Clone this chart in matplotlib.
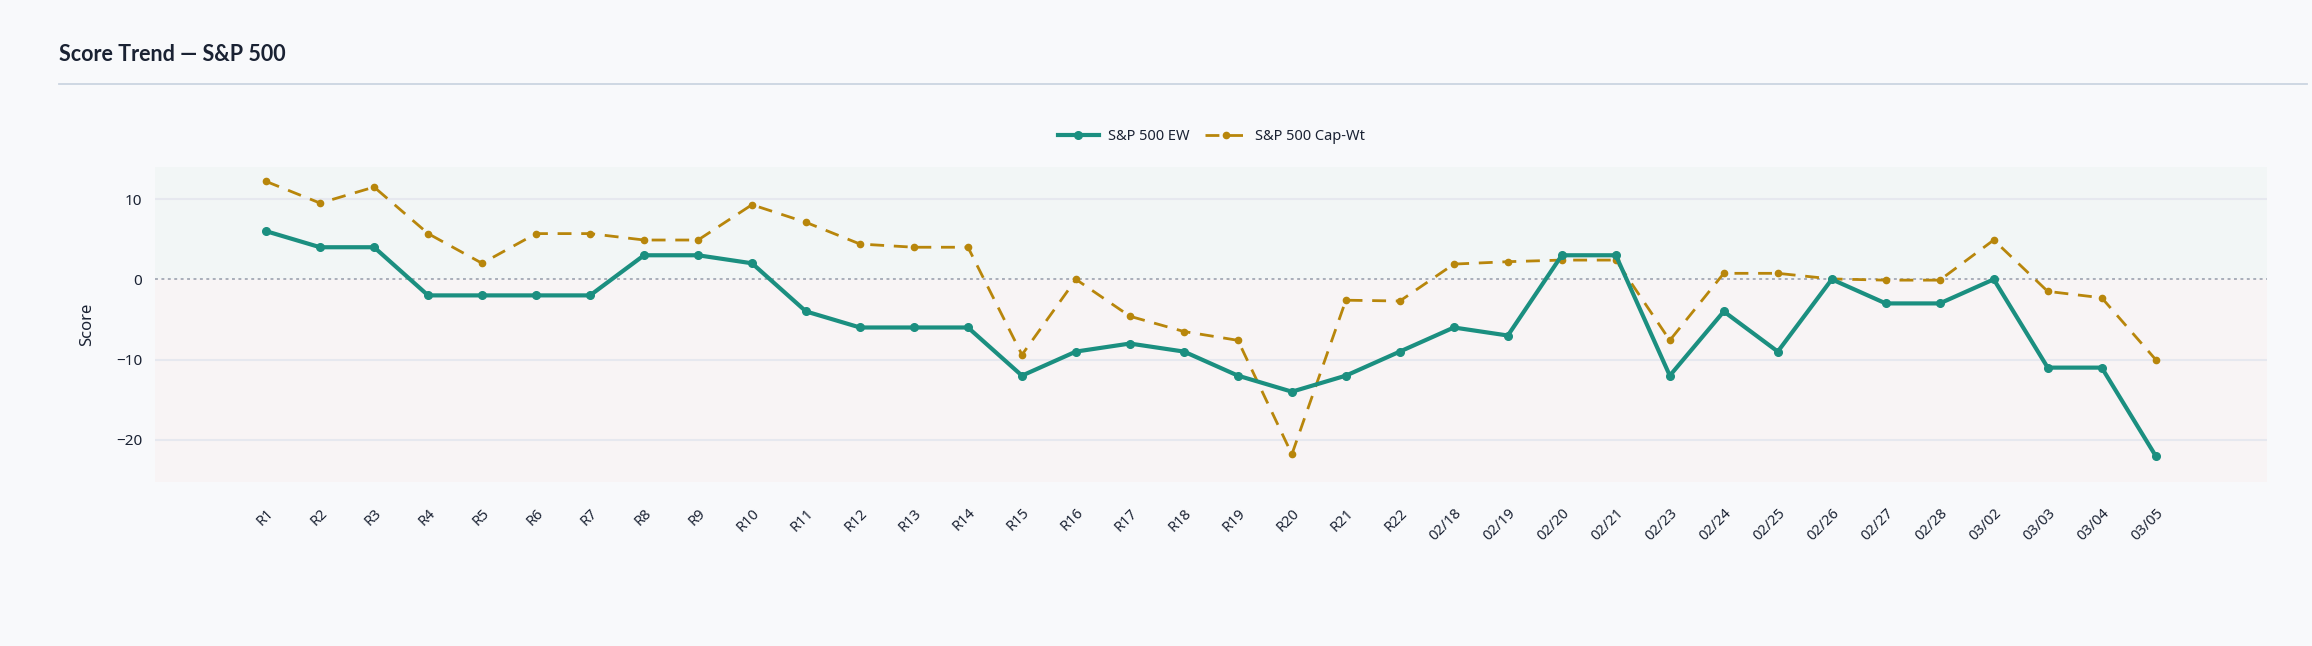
import matplotlib
matplotlib.use("Agg")
import matplotlib.pyplot as plt
import numpy as np

# labels along the x axis (rounds then dates)
labels = ["R1", "R2", "R3", "R4", "R5", "R6", "R7", "R8", "R9", "R10",
          "R11", "R12", "R13", "R14", "R15", "R16", "R17", "R18", "R19", "R20",
          "R21", "R22", "02/18", "02/19", "02/20", "02/21", "02/23", "02/24",
          "02/25", "02/26", "02/27", "02/28", "03/02", "03/03", "03/04", "03/05"]

ew_scores = [6, 4, 4, -2, -2, -2, -2, 3, 3, 2,
             -4, -6, -6, -6, -12, -9, -8, -9, -12, -14,
             -12, -9, -6, -7, 3, 3, -12, -4,
             -9, 0, -3, -3, 0, -11, -11, -22]

capwt_scores = [12.2, 9.5, 11.5, 5.7, 2.0, 5.7, 5.7, 4.9, 4.9, 9.3,
                7.1, 4.4, 4.0, 4.0, -9.4, 0.0, -4.6, -6.5, -7.6, -21.8,
                -2.6, -2.7, 1.9, 2.2, 2.4, 2.4, -7.6, 0.75,
                0.75, 0.05, -0.1, -0.1, 4.9, -1.5, -2.3, -10.0]

plt.rcParams['font.family'] = ['Noto Sans', 'DejaVu Sans']

TEAL = "#1b8f80"
GOLD = "#b8860b"
INK = "#1a2233"
BG = "#f8f9fb"

fig = plt.figure(figsize=(23.12, 6.46), dpi=100, facecolor=BG)
ax = fig.add_axes([0.067, 0.2539, 0.9135, 0.4876])
ax.set_facecolor(BG)

x = np.arange(len(labels))
ymin, ymax = -25.25, 14.0

# shaded bands above / below zero
ax.axhspan(0, ymax, color="#f2f6f6", zorder=0, lw=0)
ax.axhspan(ymin, 0, color="#f8f4f5", zorder=0, lw=0)

for yv in [-20, -10, 10]:
    ax.axhline(yv, color="#e6e8ef", lw=1.5, zorder=1)
ax.axhline(0, color="#a9afba", lw=1.4, ls=(0, (1.5, 1.8)), zorder=1)

ax.plot(x, ew_scores, color=TEAL, lw=3, marker="o", ms=5.5,
        label="S&P 500 EW", zorder=3, solid_joinstyle="round")
ax.plot(x, capwt_scores, color=GOLD, lw=2, ls=(0, (5, 3.5)), marker="o", ms=4.5,
        label="S&P 500 Cap-Wt", zorder=2)

ax.set_xlim(-2.06, 37.06)
ax.set_ylim(ymin, ymax)
ax.set_yticks([-20, -10, 0, 10])
ax.set_yticklabels(["\u221220", "\u221210", "0", "10"])
ax.set_xticks(x)
ax.set_xticklabels(labels, rotation=45, ha="right", rotation_mode="anchor")
ax.tick_params(axis="x", length=0, pad=17, labelsize=10.5, labelcolor=INK)
ax.tick_params(axis="y", length=0, pad=9, labelsize=11, labelcolor=INK)
ax.set_ylabel("Score", fontsize=12, color=INK, labelpad=15)
for s in ax.spines.values():
    s.set_visible(False)

fig.text(0.0255, 0.915, "Score Trend \u2014 S&P 500", fontsize=15.5,
         fontweight="bold", family=["Lato", "DejaVu Sans"], color=INK,
         va="center", ha="left")
fig.add_artist(plt.Line2D([0.0255, 0.998], [0.87, 0.87], color="#cbd5e1",
                          lw=1.3, transform=fig.transFigure))

fig.legend(loc="center", bbox_to_anchor=(0.524, 0.788), ncol=2, frameon=False,
           fontsize=10.5, handlelength=2.8, handletextpad=0.6,
           columnspacing=1.1, labelcolor=INK)

fig.savefig("out.png", dpi=100, facecolor=BG)
